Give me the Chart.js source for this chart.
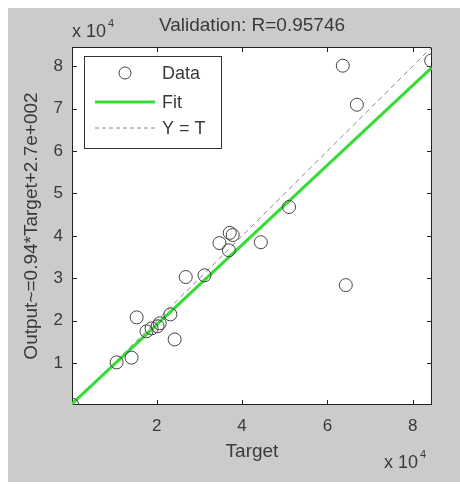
<!DOCTYPE html>
<html>
<head>
<meta charset="utf-8">
<script src="https://cdn.jsdelivr.net/npm/chart.js@4/dist/chart.umd.min.js"></script>
<style>
  html, body { margin: 0; padding: 0; background: #fff; }
  #wrap { width: 460px; height: 484px; }
</style>
</head>
<body>
<div id="wrap"><canvas id="regChart" width="460" height="484"></canvas></div>
<script>
// Data (Target, Output)
const targets = [200, 10600, 14100, 15300, 17600, 18800, 20200, 20700, 23200, 24200, 26800,
                 31200, 34700, 36900, 37100, 37800, 44400, 51000, 63600, 64300, 66900, 84300];
const outputs = [200, 10200, 11300, 20800, 17500, 18200, 18700, 19400, 21500, 15600, 30300,
                 30700, 38300, 36600, 40700, 40200, 38500, 46800, 80100, 28400, 70900, 81300];

// Fit: Output ~= 0.94*Target + 2.7e+002
const fitSlope = 0.94;
const fitIntercept = 270;

const axisMin = 150;
const axisMax = 84500;
const xTicks = [20000, 40000, 60000, 80000];
const yTicks = [10000, 20000, 30000, 40000, 50000, 60000, 70000, 80000];

const titleText = 'Validation: R=0.95746';
const xLabel = 'Target';
const yLabel = 'Output~=0.94*Target+2.7e+002';
const legendLabels = ['Data', 'Fit', 'Y = T'];

const FONT = '"Liberation Sans", Arial, sans-serif';
const TEXT = '#3a3a3a';
const FIT_GREEN = '#36dc36';
const DIAG = '#8a8494';

const scatterPts = targets.map((t, i) => ({ x: t, y: outputs[i] }));
const fitPts = [axisMin, axisMax].map(t => ({ x: t, y: fitSlope * t + fitIntercept }));
const diagPts = [axisMin, axisMax].map(t => ({ x: t, y: t }));

// gray figure + white axes box
const backdrop = {
    id: 'backdrop',
    beforeDraw(chart) {
        const { ctx, chartArea: a } = chart;
        ctx.save();
        ctx.fillStyle = '#fff';
        ctx.fillRect(0, 0, chart.width, chart.height);
        ctx.fillStyle = '#cbcbcb';
        ctx.fillRect(8, 8, chart.width - 8, chart.height - 10);
        ctx.fillStyle = '#fff';
        ctx.fillRect(a.left, a.top, a.right - a.left, a.bottom - a.top);
        ctx.restore();
    },
    beforeDatasetsDraw(chart) {
        const { ctx, chartArea: a, scales } = chart;
        ctx.save();
        ctx.strokeStyle = '#222';
        ctx.lineWidth = 1;
        ctx.strokeRect(a.left + 0.5, a.top + 0.5, a.right - a.left - 1, a.bottom - a.top - 1);
        // inward ticks on all four sides
        const len = 5;
        ctx.beginPath();
        scales.x.ticks.forEach(t => {
            const px = Math.round(scales.x.getPixelForValue(t.value)) + 0.5;
            ctx.moveTo(px, a.bottom); ctx.lineTo(px, a.bottom - len);
            ctx.moveTo(px, a.top); ctx.lineTo(px, a.top + len);
        });
        scales.y.ticks.forEach(t => {
            const py = Math.round(scales.y.getPixelForValue(t.value)) + 0.5;
            ctx.moveTo(a.left, py); ctx.lineTo(a.left + len, py);
            ctx.moveTo(a.right, py); ctx.lineTo(a.right - len, py);
        });
        ctx.stroke();
        ctx.restore();
    }
};

// titles, exponents and the boxed legend
const annotations = {
    id: 'annotations',
    afterDatasetsDraw(chart) {
        const { ctx, chartArea: a } = chart;
        ctx.save();
        ctx.fillStyle = TEXT;
        ctx.textBaseline = 'alphabetic';

        ctx.font = '19px ' + FONT;
        ctx.textAlign = 'center';
        ctx.fillText(titleText, (a.left + a.right) / 2 + 0, 31);
        ctx.fillText(xLabel, (a.left + a.right) / 2, 457);

        ctx.save();
        ctx.translate(37, (a.top + a.bottom) / 2);
        ctx.rotate(-Math.PI / 2);
        ctx.fillText(yLabel, 0, 0);
        ctx.restore();

        // x 10^4 labels
        const expo = (x, y) => {
            ctx.textAlign = 'left';
            ctx.font = '18px ' + FONT;
            ctx.fillText('x 10', x, y);
            const w = ctx.measureText('x 10').width;
            ctx.font = '11px ' + FONT;
            ctx.fillText('4', x + w + 2, y - 10);
        };
        expo(a.left, 37);
        expo(a.right - 48, 468);

        // legend
        const lx = 84, ly = 56, lw = 137, lh = 92;
        ctx.fillStyle = '#fff';
        ctx.fillRect(lx, ly, lw, lh);
        ctx.strokeStyle = '#333';
        ctx.lineWidth = 1;
        ctx.strokeRect(lx + 0.5, ly + 0.5, lw, lh);

        const rows = [73, 102, 128];
        ctx.font = '18px ' + FONT;
        ctx.fillStyle = TEXT;
        ctx.textAlign = 'left';
        ctx.textBaseline = 'middle';
        legendLabels.forEach((lab, i) => ctx.fillText(lab, 162, rows[i] + 1));

        ctx.strokeStyle = '#444';
        ctx.beginPath();
        ctx.arc(125, rows[0], 6, 0, Math.PI * 2);
        ctx.stroke();

        ctx.strokeStyle = FIT_GREEN;
        ctx.lineWidth = 3;
        ctx.beginPath();
        ctx.moveTo(95, rows[1]); ctx.lineTo(155, rows[1]);
        ctx.stroke();

        ctx.strokeStyle = DIAG;
        ctx.lineWidth = 1;
        ctx.setLineDash([4, 3]);
        ctx.beginPath();
        ctx.moveTo(95, rows[2]); ctx.lineTo(155, rows[2]);
        ctx.stroke();
        ctx.restore();
    }
};

new Chart(document.getElementById('regChart'), {
    type: 'scatter',
    data: {
        datasets: [
            {
                label: 'Data',
                data: scatterPts,
                order: 0,
                showLine: false,
                pointStyle: 'circle',
                pointRadius: 6.5,
                pointBorderWidth: 1,
                pointBackgroundColor: 'rgba(0,0,0,0)',
                pointBorderColor: '#444'
            },
            {
                label: 'Fit',
                data: fitPts,
                order: 1,
                showLine: true,
                borderColor: FIT_GREEN,
                borderWidth: 3,
                pointRadius: 0
            },
            {
                label: 'Y = T',
                data: diagPts,
                order: 2,
                showLine: true,
                borderColor: DIAG,
                borderWidth: 1,
                borderDash: [5, 4],
                pointRadius: 0
            }
        ]
    },
    options: {
        responsive: false,
        animation: false,
        layout: { padding: { left: 0, top: 47, right: 28, bottom: 0 } },
        plugins: {
            legend: { display: false },
            title: { display: false },
            tooltip: { enabled: false }
        },
        scales: {
            x: {
                type: 'linear',
                min: axisMin,
                max: axisMax,
                afterBuildTicks: s => { s.ticks = xTicks.map(v => ({ value: v })); },
                afterFit: s => { s.height = 79; },
                grid: { display: false, drawTicks: false },
                border: { display: false },
                ticks: {
                    padding: 11,
                    color: TEXT,
                    font: { family: FONT, size: 17 },
                    maxRotation: 0,
                    callback: v => v / 10000
                }
            },
            y: {
                type: 'linear',
                min: axisMin,
                max: axisMax,
                afterBuildTicks: s => { s.ticks = yTicks.map(v => ({ value: v })); },
                afterFit: s => { s.width = 72; },
                grid: { display: false, drawTicks: false },
                border: { display: false },
                ticks: {
                    padding: 9,
                    color: TEXT,
                    font: { family: FONT, size: 17 },
                    callback: v => v / 10000
                }
            }
        }
    },
    plugins: [backdrop, annotations]
});
</script>
</body>
</html>
